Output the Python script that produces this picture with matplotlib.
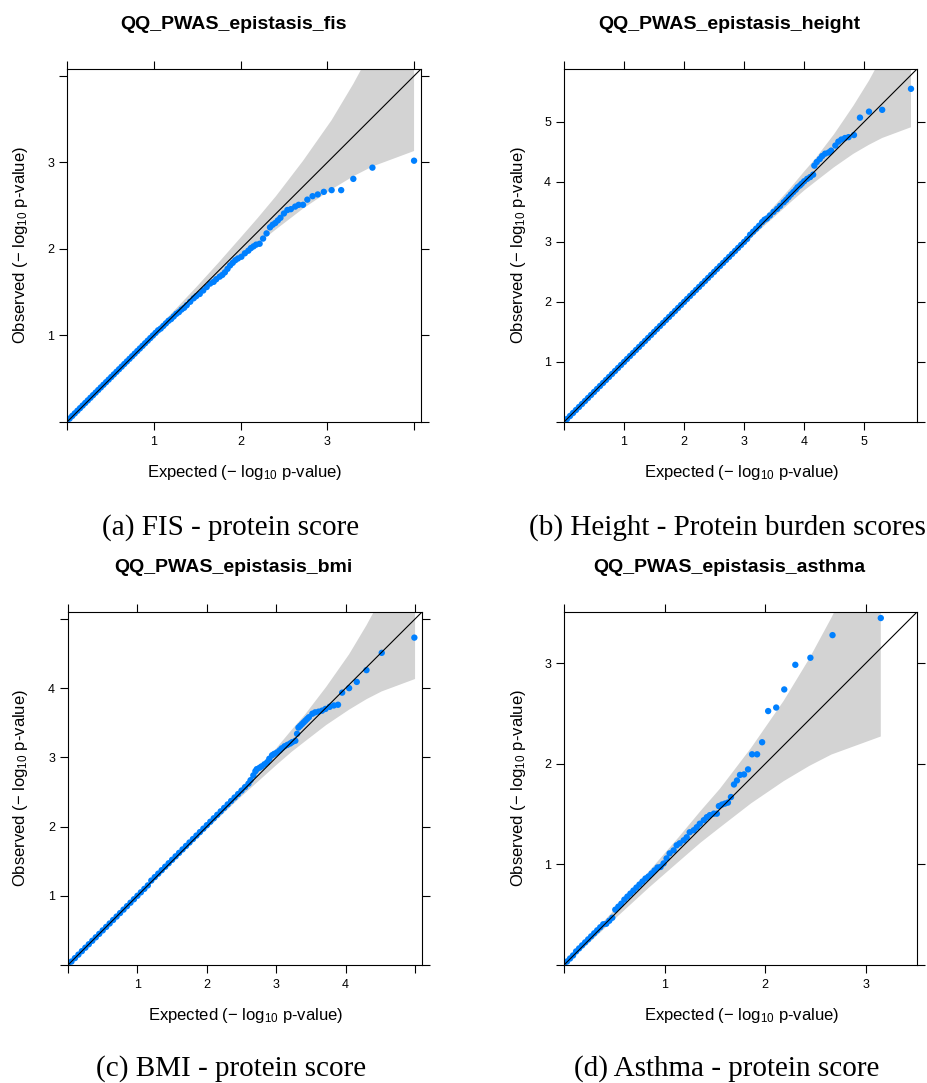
import matplotlib
matplotlib.use("Agg")
import matplotlib.pyplot as plt

# ---------------- data ----------------
titles = ["QQ_PWAS_epistasis_fis", "QQ_PWAS_epistasis_height",
          "QQ_PWAS_epistasis_bmi", "QQ_PWAS_epistasis_asthma"]
captions = ["(a) FIS - protein score", "(b) Height - Protein burden scores",
            "(c) BMI - protein score", "(d) Asthma - protein score"]

# Panel (a) FIS
fis_expected = [0.00, 0.03, 0.06, 0.09, 0.12, 0.15, 0.18, 0.21, 0.24, 0.27, 0.30, 0.33, 0.36, 0.39,
                0.42, 0.45, 0.48, 0.51, 0.54, 0.57, 0.60, 0.63, 0.66, 0.69, 0.72, 0.75, 0.78, 0.81,
                0.84, 0.87, 0.90, 0.93, 0.96, 0.99, 1.02, 1.05, 1.08, 1.11, 1.14, 1.17, 1.20, 1.23,
                1.26, 1.29,
                1.32, 1.35, 1.38, 1.42, 1.46, 1.49, 1.53, 1.57, 1.61, 1.65, 1.69, 1.72, 1.76, 1.79,
                1.82, 1.85, 1.88, 1.91, 1.94, 1.97, 2.01, 2.05, 2.09, 2.12, 2.15, 2.18, 2.22, 2.26,
                2.30, 2.34, 2.37, 2.40, 2.43, 2.46, 2.50, 2.54, 2.58, 2.63, 2.67, 2.72, 2.77, 2.83,
                2.89, 2.96, 3.05, 3.16, 3.30, 3.52, 4.00]
fis_observed = [0.01, 0.04, 0.07, 0.10, 0.13, 0.16, 0.19, 0.22, 0.25, 0.28, 0.31, 0.34, 0.37, 0.40,
                0.43, 0.46, 0.49, 0.52, 0.55, 0.58, 0.61, 0.64, 0.67, 0.70, 0.73, 0.76, 0.79, 0.82,
                0.85, 0.88, 0.91, 0.94, 0.97, 1.00, 1.03, 1.06, 1.08, 1.11, 1.14, 1.17, 1.19, 1.22,
                1.25, 1.27,
                1.30, 1.32, 1.35, 1.39, 1.43, 1.455, 1.48, 1.52, 1.56, 1.60, 1.62, 1.65, 1.68, 1.70,
                1.73, 1.77, 1.81, 1.84, 1.87, 1.89, 1.91, 1.95, 1.98, 2.01, 2.03, 2.05, 2.06, 2.12,
                2.18, 2.25, 2.28, 2.30, 2.33, 2.36, 2.41, 2.45, 2.46, 2.49, 2.51, 2.51, 2.57, 2.61,
                2.63, 2.66, 2.68, 2.68, 2.81, 2.94, 3.02]
fis_band_x = [0.0, 0.5, 1.0, 1.5, 1.75, 2.0, 2.2, 2.41, 2.72, 3.05, 3.30, 3.52, 4.00]
fis_band_lo = [0.0, 0.482, 0.964, 1.433, 1.66, 1.887, 2.06, 2.227, 2.466, 2.689, 2.840, 2.953, 3.132]
fis_band_hi = [0.0, 0.518, 1.037, 1.569, 1.845, 2.130, 2.36, 2.612, 3.018, 3.489, 3.908, 4.315, 5.296]

# Panel (b) Height
height_expected = [0.00, 0.05, 0.10, 0.15, 0.20, 0.25, 0.30, 0.35, 0.40, 0.45, 0.50, 0.55, 0.60, 0.65,
                   0.70, 0.75, 0.80, 0.85, 0.90, 0.95, 1.00, 1.05, 1.10, 1.15, 1.20, 1.25, 1.30, 1.35,
                   1.40, 1.45, 1.50, 1.55, 1.60, 1.65, 1.70, 1.75, 1.80, 1.85, 1.90, 1.95, 2.00, 2.05,
                   2.10, 2.15, 2.20, 2.25, 2.30, 2.35, 2.40, 2.45, 2.50, 2.55, 2.60, 2.65, 2.70, 2.75,
                   2.80, 2.85, 2.90, 2.95, 3.00, 3.05, 3.10, 3.15, 3.20, 3.25, 3.30,
                   3.34, 3.38, 3.43, 3.49, 3.55, 3.60, 3.66, 3.70, 3.74, 3.78, 3.82, 3.86, 3.89, 3.93,
                   3.96, 4.00, 4.05, 4.10, 4.15, 4.17, 4.21, 4.26, 4.30, 4.35, 4.41, 4.45, 4.52, 4.57,
                   4.62, 4.68, 4.74, 4.83, 4.93, 5.08, 5.30, 5.78]
height_observed = [0.00, 0.05, 0.10, 0.15, 0.20, 0.25, 0.30, 0.35, 0.40, 0.45, 0.50, 0.55, 0.60, 0.65,
                   0.70, 0.75, 0.80, 0.85, 0.90, 0.95, 1.00, 1.05, 1.10, 1.15, 1.20, 1.25, 1.30, 1.35,
                   1.40, 1.45, 1.50, 1.55, 1.60, 1.65, 1.70, 1.75, 1.80, 1.85, 1.90, 1.95, 2.00, 2.05,
                   2.10, 2.15, 2.20, 2.25, 2.30, 2.35, 2.40, 2.45, 2.50, 2.55, 2.60, 2.65, 2.70, 2.75,
                   2.80, 2.85, 2.90, 2.95, 3.00, 3.05, 3.12, 3.17, 3.22, 3.27, 3.33,
                   3.37, 3.39, 3.44, 3.50, 3.55, 3.60, 3.66, 3.70, 3.745, 3.79, 3.83, 3.87, 3.91, 3.94,
                   3.97, 4.01, 4.05, 4.08, 4.12, 4.27, 4.33, 4.38, 4.43, 4.47, 4.49, 4.52, 4.605, 4.67,
                   4.705, 4.73, 4.745, 4.78, 5.07, 5.17, 5.20, 5.55]
height_band_x = [0.0, 1.0, 2.0, 2.78, 3.28, 3.78, 4.00, 4.19, 4.50, 4.82, 5.08, 5.30, 5.78]
height_band_lo = [0.0, 0.995, 1.985, 2.744, 3.216, 3.665, 3.856, 4.005, 4.245, 4.467, 4.618, 4.731, 4.910]
height_band_hi = [0.0, 1.005, 2.016, 2.817, 3.350, 3.908, 4.172, 4.390, 4.796, 5.267, 5.686, 6.093, 7.074]

# Panel (c) BMI
bmi_expected = [0.00, 0.05, 0.10, 0.15, 0.20, 0.25, 0.30, 0.35, 0.40, 0.45, 0.50, 0.55, 0.60, 0.65,
                0.70, 0.75, 0.80, 0.85, 0.90, 0.95, 1.00, 1.05, 1.10, 1.15, 1.20, 1.25, 1.30, 1.35,
                1.40, 1.45, 1.50, 1.55, 1.60, 1.65, 1.70, 1.75, 1.80, 1.85, 1.90, 1.95, 2.00, 2.05,
                2.10, 2.15, 2.20, 2.25, 2.30, 2.35, 2.40, 2.45, 2.50, 2.55, 2.60,
                2.63, 2.67, 2.70, 2.72, 2.76, 2.79, 2.83, 2.87, 2.90, 2.94, 2.97, 3.01, 3.05, 3.08,
                3.12, 3.16, 3.20, 3.23, 3.275, 3.30, 3.32, 3.345, 3.37, 3.395, 3.42, 3.445, 3.47, 3.52,
                3.56, 3.61, 3.66, 3.71, 3.77, 3.83, 3.89, 3.95, 4.05, 4.16, 4.30, 4.52, 4.99]
bmi_observed = [0.00, 0.05, 0.10, 0.15, 0.20, 0.25, 0.30, 0.35, 0.40, 0.45, 0.50, 0.55, 0.60, 0.65,
                0.70, 0.75, 0.80, 0.85, 0.90, 0.95, 1.00, 1.05, 1.10, 1.15, 1.22, 1.27, 1.32, 1.37,
                1.42, 1.47, 1.52, 1.57, 1.62, 1.67, 1.72, 1.77, 1.82, 1.87, 1.92, 1.97, 2.02, 2.07,
                2.12, 2.17, 2.22, 2.27, 2.32, 2.37, 2.42, 2.47, 2.52, 2.57, 2.62,
                2.67, 2.74, 2.80, 2.83, 2.85, 2.87, 2.90, 2.93, 2.98, 3.03, 3.05, 3.07, 3.10, 3.13,
                3.16, 3.18, 3.20, 3.22, 3.24, 3.34, 3.43, 3.455, 3.48, 3.505, 3.53, 3.555, 3.58, 3.63,
                3.65, 3.66, 3.675, 3.70, 3.73, 3.75, 3.76, 3.935, 4.00, 4.09, 4.26, 4.51, 4.73]
bmi_band_x = [0.0, 1.0, 2.0, 2.5, 3.0, 3.22, 3.41, 3.72, 4.05, 4.30, 4.52, 5.00]
bmi_band_lo = [0.0, 0.989, 1.964, 2.437, 2.887, 3.078, 3.227, 3.467, 3.689, 3.840, 3.953, 4.132]
bmi_band_hi = [0.0, 1.011, 2.037, 2.571, 3.130, 3.394, 3.612, 4.018, 4.489, 4.908, 5.315, 6.296]

# Panel (d) Asthma
asthma_expected = [0.00, 0.03, 0.06, 0.09, 0.12, 0.15, 0.18, 0.21, 0.24, 0.27, 0.30, 0.33, 0.36, 0.39,
                   0.42, 0.45, 0.48, 0.51, 0.54, 0.57, 0.60, 0.63, 0.66, 0.69, 0.72, 0.75, 0.78, 0.81,
                   0.84, 0.87, 0.90, 0.93,
                   0.96, 0.99, 1.02, 1.05, 1.09, 1.12, 1.15, 1.19, 1.22, 1.25, 1.29, 1.32, 1.35, 1.39,
                   1.42, 1.45, 1.49, 1.52, 1.54, 1.57, 1.60, 1.63, 1.66, 1.69, 1.72, 1.75, 1.79, 1.83,
                   1.87, 1.92, 1.97, 2.03, 2.11, 2.19, 2.30, 2.45, 2.67, 3.15]
asthma_observed = [0.005, 0.035, 0.065, 0.095, 0.135, 0.165, 0.195, 0.225, 0.255, 0.285, 0.315, 0.345,
                   0.375, 0.405, 0.41, 0.44, 0.47, 0.55, 0.58, 0.61, 0.65, 0.68, 0.71, 0.74, 0.77,
                   0.80, 0.83, 0.86, 0.88, 0.91, 0.94, 0.97,
                   0.975, 1.01, 1.06, 1.11, 1.14, 1.19, 1.21, 1.24, 1.27, 1.32, 1.34, 1.37, 1.405, 1.44,
                   1.47, 1.49, 1.505, 1.505, 1.58, 1.595, 1.605, 1.615, 1.67, 1.795, 1.835, 1.89, 1.895,
                   1.945, 2.095, 2.095, 2.215, 2.525, 2.56, 2.74, 2.985, 3.055, 3.28, 3.45]
asthma_band_x = [0.0, 0.236, 0.54, 0.84, 1.14, 1.36, 1.55, 1.86, 2.186, 2.44, 2.66, 3.15]
asthma_band_lo = [0.0, 0.208, 0.49, 0.765, 1.027, 1.218, 1.367, 1.607, 1.829, 1.980, 2.093, 2.272]
asthma_band_hi = [0.0, 0.264, 0.59, 0.925, 1.270, 1.534, 1.752, 2.158, 2.629, 3.048, 3.455, 4.436]

# axis limits and tick labels per panel
axis_max = [4.08, 5.88, 5.10, 3.51]
tick_values = [[0, 1, 2, 3, 4], [0, 1, 2, 3, 4, 5], [0, 1, 2, 3, 4, 5], [0, 1, 2, 3]]
tick_labels = [["", "1", "2", "3", ""], ["", "1", "2", "3", "4", "5"],
               ["", "1", "2", "3", "4", ""], ["", "1", "2", "3"]]

series = [
    (fis_expected, fis_observed, fis_band_x, fis_band_lo, fis_band_hi),
    (height_expected, height_observed, height_band_x, height_band_lo, height_band_hi),
    (bmi_expected, bmi_observed, bmi_band_x, bmi_band_lo, bmi_band_hi),
    (asthma_expected, asthma_observed, asthma_band_x, asthma_band_lo, asthma_band_hi),
]

# ---------------- styling / layout ----------------
plt.rcParams['font.family'] = ['Liberation Sans', 'DejaVu Sans']
plt.rcParams['mathtext.fontset'] = 'custom'
plt.rcParams['mathtext.rm'] = 'Liberation Sans'
plt.rcParams['mathtext.it'] = 'Liberation Sans:italic'
plt.rcParams['mathtext.bf'] = 'Liberation Sans:bold'

W, H = 928, 1083
fig = plt.figure(figsize=(W / 100, H / 100), dpi=100)


def fx(px):
    return px / W


def fy(py):
    return 1 - py / H


# panel boxes in pixels: left, top, right, bottom
boxes = [(67, 69, 421, 422), (564, 69, 917, 422), (68, 612, 422, 965), (564, 612, 917, 965)]
title_x = [233.5, 729.5, 233.5, 729.5]
ylab_x = [21, 518, 21, 518]
caption_pos = [(231, 535), (727, 535), (231, 1076), (727, 1076)]

POINT = '#0080FF'
BAND = '#D3D3D3'
label_text = 'Observed (\u2212 log$_{10}$ p-value)'
xlabel_text = 'Expected (\u2212 log$_{10}$ p-value)'

for i, (exp_v, obs_v, bx, blo, bhi) in enumerate(series):
    l, t, r, b = boxes[i]
    ax = fig.add_axes([fx(l), fy(b), (r - l) / W, (b - t) / H])
    ax.fill_between(bx, blo, bhi, facecolor=BAND, edgecolor='none', zorder=1)
    ax.scatter(exp_v, obs_v, s=21, c=POINT, edgecolors='none', zorder=2)
    ax.axline((0, 0), slope=1, color='black', lw=0.8, zorder=3)
    m = axis_max[i]
    ax.set_xlim(0, m)
    ax.set_ylim(0, m)
    ax.set_xticks(tick_values[i])
    ax.set_xticklabels(tick_labels[i])
    ax.set_yticks(tick_values[i])
    ax.set_yticklabels(tick_labels[i])
    for sp in ax.spines.values():
        sp.set_linewidth(0.8)
        sp.set_color('black')
    ax.tick_params(axis='both', direction='out', length=5.8, width=0.8,
                   top=True, right=True, labelsize=9, colors='black')
    ax.tick_params(axis='x', pad=4.5)
    ax.tick_params(axis='y', pad=3.5)

    fig.text(fx(title_x[i]), fy(t - 40), titles[i], ha='center', va='baseline',
             fontsize=14, fontweight='bold')
    fig.text(fx((l + r) / 2 + 1), fy(b + 55), xlabel_text, ha='center', va='baseline', fontsize=12)
    fig.text(fx(ylab_x[i]), fy((t + b) / 2), label_text, ha='center', va='center',
             rotation=90, fontsize=12)
    cx, cy = caption_pos[i]
    fig.text(fx(cx), fy(cy), captions[i], ha='center', va='baseline', fontsize=21,
             family=['Liberation Serif', 'DejaVu Serif'])

fig.savefig('out.png', dpi=100)
